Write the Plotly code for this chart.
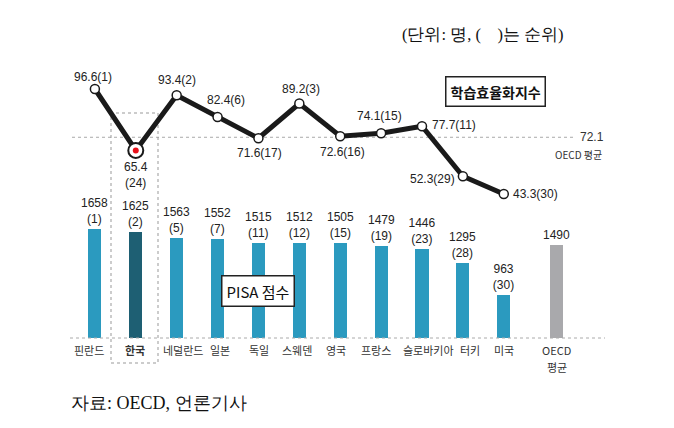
import plotly.graph_objects as go

# ---------------- data ----------------
countries = ["핀란드", "한국", "네덜란드", "일본", "독일", "스웨덴", "영국", "프랑스", "슬로바키아", "터키", "미국"]
pisa_scores = [1658, 1625, 1563, 1552, 1515, 1512, 1505, 1479, 1446, 1295, 963]
pisa_ranks = [1, 2, 5, 7, 11, 12, 15, 19, 23, 28, 30]
eff_index = [96.6, 65.4, 93.4, 82.4, 71.6, 89.2, 72.6, 74.1, 77.7, 52.3, 43.3]
eff_ranks = [1, 24, 2, 6, 17, 3, 16, 15, 11, 29, 30]
oecd_label_lines = ["OECD", "평균"]
oecd_pisa = 1490
oecd_index = 72.1

# ---------------- layout helpers ----------------
W, H = 674, 428
OFF = 8                      # page body margin
FW, FH = W - OFF, H - OFF    # figure size
# plot area in reference pixel coords
PL, PR, PT, PB = 54, 606, 40, 338
ML = PL - OFF
MT = PT - OFF
MR = FW - (PR - OFF)
MB = FH - (PB - OFF)
plot_w = PR - PL
plot_h = PB - PT

n = len(countries)
xs = list(range(n))
x_oecd = n - 1 + 1.3

NUM_FONT = "Liberation Sans, Arial, sans-serif"
KO_FONT = "Noto Sans CJK KR, sans-serif"
SERIF = "Liberation Serif, DejaVu Serif, serif"

bar_colors = ["#2b9abf"] * n
bar_colors[1] = "#1e5f73"

fig = go.Figure()

# bars
fig.add_trace(go.Bar(
    x=xs, y=pisa_scores, width=0.32,
    marker=dict(color=bar_colors, line=dict(width=0)),
    text=[f"{v}<br>({r})" for v, r in zip(pisa_scores, pisa_ranks)],
    textposition="outside", cliponaxis=False, constraintext="none",
    textfont=dict(family=NUM_FONT, size=12, color="#222"),
    yaxis="y", showlegend=False, hoverinfo="skip"))
fig.add_trace(go.Bar(
    x=[x_oecd], y=[oecd_pisa], width=0.32,
    marker=dict(color="#a9a9ac", line=dict(width=0)),
    text=[f"{oecd_pisa}"], textposition="outside", cliponaxis=False, constraintext="none",
    textfont=dict(family=NUM_FONT, size=12, color="#222"),
    yaxis="y", showlegend=False, hoverinfo="skip"))

# line
fig.add_trace(go.Scatter(
    x=xs, y=eff_index, mode="lines+markers", yaxis="y2",
    line=dict(color="#1a1a1a", width=5),
    marker=dict(size=9, color="white", line=dict(color="#1a1a1a", width=1.5)),
    showlegend=False, hoverinfo="skip", cliponaxis=False))
# Korea highlight
fig.add_trace(go.Scatter(
    x=[xs[1]], y=[eff_index[1]], mode="markers", yaxis="y2",
    marker=dict(size=15, color="white", line=dict(color="#1a1a1a", width=2)),
    showlegend=False, hoverinfo="skip", cliponaxis=False))
fig.add_trace(go.Scatter(
    x=[xs[1]], y=[eff_index[1]], mode="markers", yaxis="y2",
    marker=dict(size=6, color="#e8101a"),
    showlegend=False, hoverinfo="skip", cliponaxis=False))

# axis ranges from pixel anchors
bar_px_per_unit = 0.095
bar_min = 510
bar_range = [bar_min, bar_min + plot_h / bar_px_per_unit]
line_px_per_unit = 1.97
top_anchor_px = 89 - PT  # px from plot top for first value
line_top = eff_index[0] + top_anchor_px / line_px_per_unit
line_range = [line_top - plot_h / line_px_per_unit, line_top]

def px(xp):
    return (xp - PL) / plot_w

def py(yp):
    return (PB - yp) / plot_h

# line label offsets (style/position)
lbl_off = [(-2, 12), (0, -25), (0, 15), (8, 17), (1, -15), (2, 15),
           (2, -16), (-2, 17), (32, 1), (-30, -3), (32, 0)]
annotations = []
for i, (v, r) in enumerate(zip(eff_index, eff_ranks)):
    txt = f"{v}<br>({r})" if i == 1 else f"{v}({r})"
    dx, dy = lbl_off[i]
    annotations.append(dict(x=xs[i], y=v, xref="x", yref="y2", text=txt,
                            showarrow=False, xshift=dx, yshift=dy,
                            xanchor="center", yanchor="middle",
                            font=dict(family=NUM_FONT, size=12, color="#222")))

# category labels (as annotations so they can be nudged like the original)
tick_shift = [-6, -1, 6, 2, 1, -2, -4, -5, 6, 7, 0]
for i, c in enumerate(countries):
    t = f"<b>{c}</b>" if c == "한국" else c
    annotations.append(dict(x=xs[i], y=py(350), xref="x", yref="paper", text=t,
                            showarrow=False, xshift=tick_shift[i],
                            xanchor="center", yanchor="middle",
                            font=dict(family=KO_FONT, size=11, color="#333")))
for j, t in enumerate(oecd_label_lines):
    annotations.append(dict(x=x_oecd, y=py(350 + 17 * j), xref="x", yref="paper", text=t,
                            showarrow=False, xanchor="center", yanchor="middle",
                            font=dict(family=KO_FONT, size=11, color="#333")))

annotations += [
    dict(x=px(592), y=oecd_index, xref="paper", yref="y2", text=f"{oecd_index}",
         showarrow=False, xanchor="center", yanchor="middle",
         font=dict(family=NUM_FONT, size=12, color="#333")),
    dict(x=px(578), y=oecd_index, xref="paper", yref="y2", text="OECD 평균",
         showarrow=False, yshift=-17, xanchor="center", yanchor="middle",
         font=dict(family=KO_FONT, size=10, color="#333")),
    dict(x=px(495), y=py(91), xref="paper", yref="paper", text="<b>학습효율화지수</b>",
         showarrow=False, bordercolor="#222", borderwidth=1.5, borderpad=4, bgcolor="white",
         xanchor="center", yanchor="middle",
         font=dict(family=KO_FONT, size=14, color="#111")),
    dict(x=px(258), y=py(291), xref="paper", yref="paper", text="PISA 점수",
         showarrow=False, bordercolor="#222", borderwidth=1.5, borderpad=4, bgcolor="white",
         xanchor="center", yanchor="middle",
         font=dict(family=KO_FONT, size=15, color="#111")),
    dict(x=px(483), y=py(35), xref="paper", yref="paper", text="(단위: 명, (    )는 순위)",
         showarrow=False, xanchor="center", yanchor="middle",
         font=dict(family=SERIF, size=16.5, color="#111")),
    dict(x=px(69), y=py(403), xref="paper", yref="paper", text="자료: OECD, 언론기사",
         showarrow=False, xanchor="left", yanchor="middle",
         font=dict(family=SERIF, size=18, color="#111")),
]

shapes = [
    dict(type="line", xref="paper", yref="paper", x0=px(70), x1=px(605), y0=0, y1=0,
         line=dict(color="#aaaaaa", width=1, dash="dot")),
    dict(type="line", xref="paper", yref="y2", x0=px(72), x1=px(575), y0=oecd_index, y1=oecd_index,
         line=dict(color="#aaaaaa", width=1, dash="dot"), layer="below"),
    dict(type="rect", xref="paper", yref="paper", x0=px(111), x1=px(158), y0=py(363), y1=py(113),
         line=dict(color="#999999", width=1, dash="dot"), layer="below"),
]

fig.update_layout(
    width=FW, height=FH,
    margin=dict(l=ML, r=MR, t=MT, b=MB, autoexpand=False),
    paper_bgcolor="white", plot_bgcolor="white",
    bargap=0,
    xaxis=dict(range=[-1, 12.5], showticklabels=False, showgrid=False,
               zeroline=False, showline=False, ticks=""),
    yaxis=dict(range=bar_range, visible=False, showgrid=False, zeroline=False),
    yaxis2=dict(range=line_range, overlaying="y", visible=False, showgrid=False, zeroline=False),
    annotations=annotations, shapes=shapes,
)

fig.write_html("out.html")
